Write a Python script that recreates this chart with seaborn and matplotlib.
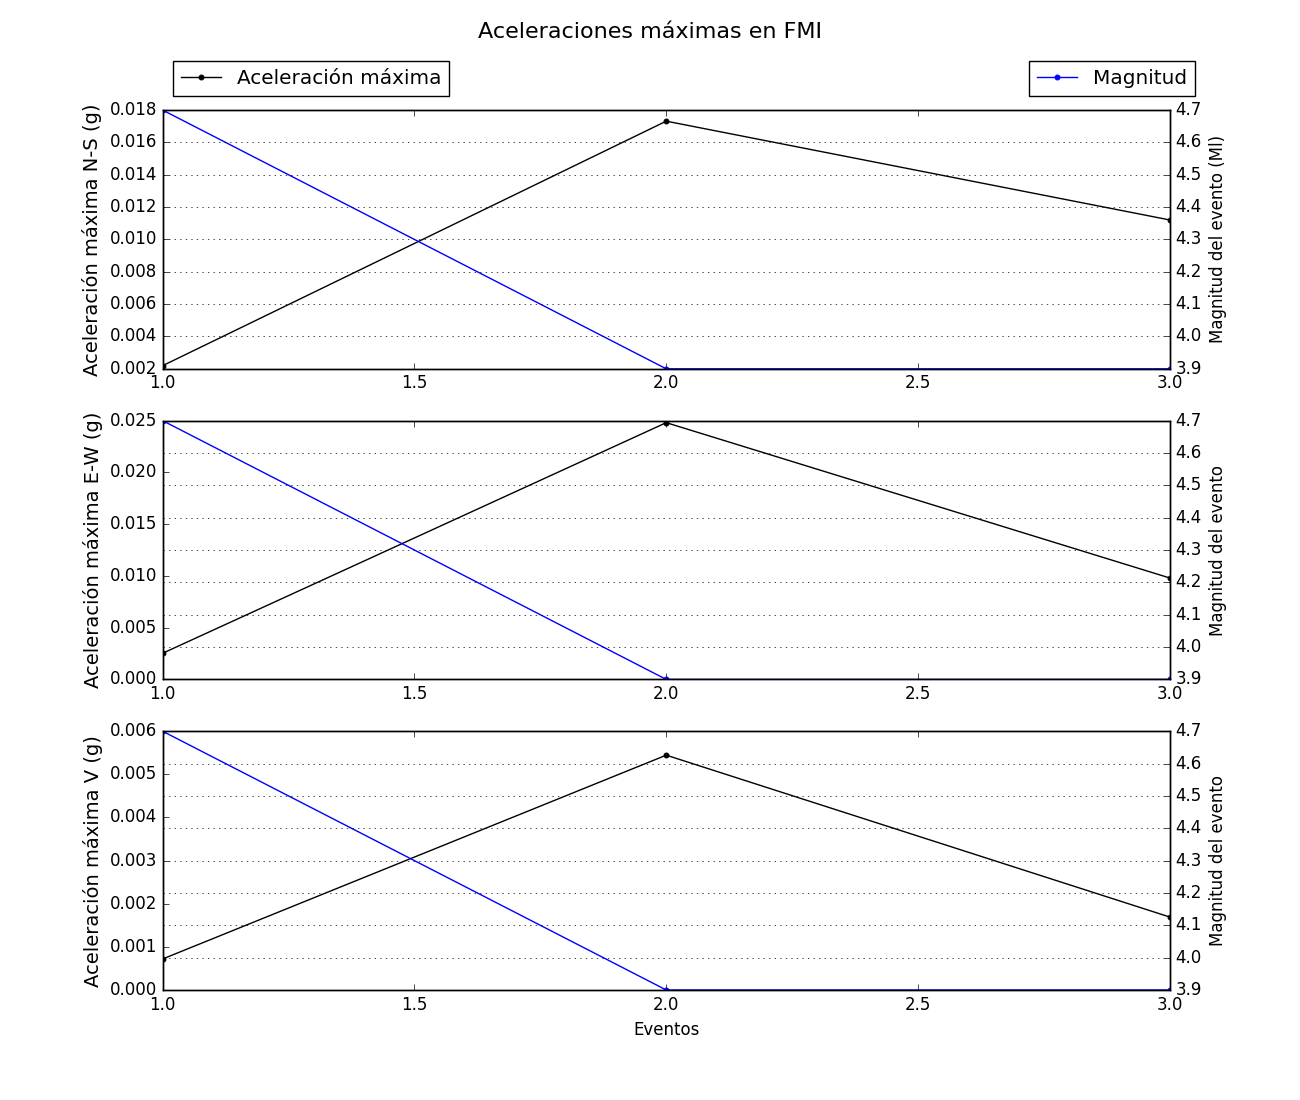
import matplotlib
matplotlib.use("Agg")
import matplotlib.pyplot as plt
import seaborn as sns

plt.style.use("classic")

# Events and peak accelerations (g) per component
eventos = [1, 2, 3]
acel_ns = [0.00219, 0.01731, 0.0112]
acel_ew = [0.00252, 0.0248, 0.00979]
acel_v = [0.000718, 0.005444, 0.00169]
magnitud = [4.7, 3.9, 3.9]

componentes = [
    (acel_ns, "Aceleración máxima N-S (g)", "Magnitud del evento (Ml)", (0.002, 0.018)),
    (acel_ew, "Aceleración máxima E-W (g)", "Magnitud del evento", (0.0, 0.025)),
    (acel_v, "Aceleración máxima V (g)", "Magnitud del evento", (0.0, 0.006)),
]

fig, axs = plt.subplots(3, 1, figsize=(13, 11), dpi=100)
fig.suptitle("Aceleraciones máximas en FMI", fontsize=16)

for i, (acel, ylab, ylab2, ylim) in enumerate(componentes):
    ax = axs[i]
    sns.lineplot(x=eventos, y=acel, ax=ax, color="k", marker="o", markersize=3.5,
                 markeredgecolor="k", linewidth=1, label="Aceleración máxima", legend=False)
    ax.set_ylim(*ylim)
    ax.set_xlim(1, 3)
    ax.set_ylabel(ylab, fontsize=14)

    ax2 = ax.twinx()
    sns.lineplot(x=eventos, y=magnitud, ax=ax2, color="b", marker="o", markersize=3.5,
                 markeredgecolor="b", linewidth=1, label="Magnitud", legend=False)
    ax2.set_ylim(3.9, 4.7)
    ax2.set_xlim(1, 3)
    ax2.set_ylabel(ylab2, fontsize=12)
    ax2.grid(True, color="k", linestyle=":", linewidth=0.5)

    if i == 0:
        ax.legend(loc="lower left", bbox_to_anchor=(0.01, 1.055), borderaxespad=0,
                  numpoints=1, fontsize=14.4)
        ax2.legend(loc="lower right", bbox_to_anchor=(1.025, 1.055), borderaxespad=0,
                   numpoints=1, fontsize=14.4)

axs[2].set_xlabel("Eventos", fontsize=12)

plt.savefig("out.png", dpi=100)
plt.close()
